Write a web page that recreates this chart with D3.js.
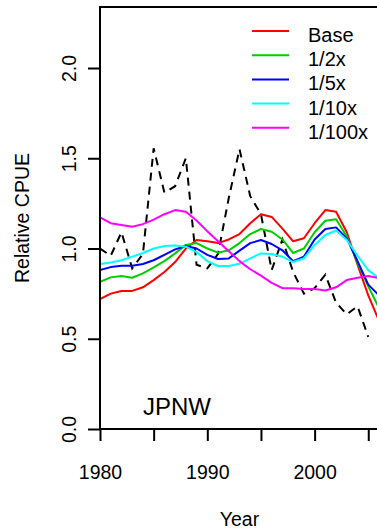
<!DOCTYPE html>
<html>
<head>
<meta charset="utf-8">
<script src="https://cdn.jsdelivr.net/npm/d3@7"></script>
<style>
  html, body { margin: 0; padding: 0; background: #fff; }
  svg { display: block; font-family: "Liberation Sans", Arial, sans-serif; }
</style>
</head>
<body>
<svg id="chart" width="377" height="530"></svg>
<script>
// ---- data ----
const years = [1980,1981,1982,1983,1984,1985,1986,1987,1988,1989,1990,1991,1992,1993,1994,1995,1996,1997,1998,1999,2000,2001,2002,2003,2004,2005,2006];
const base      = [0.72,0.75,0.765,0.765,0.785,0.825,0.87,0.925,1.0,1.047,1.04,1.03,1.05,1.08,1.14,1.19,1.175,1.11,1.04,1.057,1.14,1.213,1.204,1.09,0.91,0.74,0.6];
const half      = [0.816,0.84,0.848,0.838,0.862,0.895,0.93,0.973,1.02,1.03,1.0,0.977,0.99,1.03,1.08,1.108,1.093,1.05,0.975,1.0,1.09,1.154,1.162,1.066,0.92,0.79,0.67];
const fifth     = [0.88,0.897,0.905,0.905,0.914,0.935,0.965,0.995,1.014,1.0,0.965,0.942,0.945,0.988,1.03,1.047,1.025,0.99,0.93,0.955,1.05,1.108,1.117,1.056,0.93,0.8,0.74];
const tenth     = [0.914,0.923,0.935,0.955,0.975,1.0,1.014,1.016,1.01,0.98,0.93,0.903,0.903,0.915,0.945,0.973,0.97,0.955,0.925,0.946,1.02,1.075,1.1,1.047,0.96,0.88,0.835];
const hundredth = [1.173,1.14,1.13,1.12,1.135,1.16,1.19,1.213,1.204,1.155,1.095,1.04,0.985,0.93,0.885,0.85,0.81,0.78,0.78,0.775,0.775,0.767,0.785,0.825,0.838,0.848,0.835];
const obsYears  = [1980,1981,1982,1983,1984,1985,1986,1987,1988,1989,1990,1991,1992,1993,1994,1995,1996,1997,1998,1999,2000,2001,2002,2003,2004,2005];
const observed  = [1.0,0.96,1.09,0.89,0.97,1.555,1.31,1.345,1.5,0.91,0.89,0.97,1.28,1.55,1.29,1.19,0.88,1.05,0.87,0.75,0.78,0.855,0.7,0.635,0.68,0.51];

const seriesNames  = ["Base","1/2x","1/5x","1/10x","1/100x"];
const seriesColors = ["#ff0000","#00cd00","#0000ff","#00ffff","#ff00ff"];
const seriesValues = [base, half, fifth, tenth, hundredth];

const xTicks = [1980,1985,1990,1995,2000,2005];
const xTickLabels = ["1980","","1990","","2000",""];
const yTicks = [0,0.5,1,1.5,2];
const yTickLabels = ["0.0","0.5","1.0","1.5","2.0"];

// ---- layout ----
const svg = d3.select("#chart");
const L = 100, R = 379, T = 7, B = 429;
const x = d3.scaleLinear().domain([1980, 2006]).range([L, R]);
const y = d3.scaleLinear().domain([0, 2.338]).range([B, T]);
const fs = 19.5;

svg.append("defs").append("clipPath").attr("id","clip")
  .append("rect").attr("x", L).attr("y", T).attr("width", R - L).attr("height", B - T);

const plot = svg.append("g").attr("clip-path","url(#clip)");
const line = d3.line().x(d => x(d[0])).y(d => y(d[1]));

// observed dashed
plot.append("path")
  .datum(obsYears.map((yr,i) => [yr, observed[i]]))
  .attr("d", line).attr("fill","none").attr("stroke","#000")
  .attr("stroke-width",2).attr("stroke-dasharray","8,6");

seriesValues.forEach((vals, k) => {
  plot.append("path")
    .datum(years.map((yr,i) => [yr, vals[i]]))
    .attr("d", line).attr("fill","none").attr("stroke", seriesColors[k])
    .attr("stroke-width",2).attr("stroke-linejoin","round");
});

// box
svg.append("path")
  .attr("d", `M${R},${T}H${L}V${B}H${R}`)
  .attr("fill","none").attr("stroke","#000").attr("stroke-width",2);

// x axis
const xAxis = d3.axisBottom(x).tickValues(xTicks).tickSize(12)
  .tickFormat((d,i) => xTickLabels[i]);
const gx = svg.append("g").attr("transform", `translate(0,${B})`).call(xAxis);
gx.select(".domain").remove();
gx.selectAll(".tick line").attr("stroke","#000").attr("stroke-width",2);
gx.selectAll(".tick text").attr("y", 50).attr("dy", null)
  .attr("font-size", fs).attr("font-family","Liberation Sans, Arial, sans-serif").attr("fill","#000");

// y axis
const yAxis = d3.axisLeft(y).tickValues(yTicks).tickSize(12)
  .tickFormat((d,i) => yTickLabels[i]);
const gy = svg.append("g").attr("transform", `translate(${L},0)`).call(yAxis);
gy.select(".domain").remove();
gy.selectAll(".tick line").attr("stroke","#000").attr("stroke-width",2);
gy.selectAll(".tick text")
  .attr("x", null).attr("dy", null)
  .attr("transform", "translate(-24.5,0) rotate(-90)")
  .attr("text-anchor","middle")
  .attr("font-size", fs).attr("font-family","Liberation Sans, Arial, sans-serif").attr("fill","#000");

// axis titles
svg.append("text").attr("x", (L + R) / 2).attr("y", 525.5)
  .attr("text-anchor","middle").attr("font-size", fs).text("Year");
svg.append("text").attr("transform", `translate(28.5,${(T + B) / 2}) rotate(-90)`)
  .attr("text-anchor","middle").attr("font-size", fs).text("Relative CPUE");

// panel label
svg.append("text").attr("x", 143).attr("y", 415).attr("font-size", 24).text("JPNW");

// legend
const lg = svg.append("g");
seriesNames.forEach((name, i) => {
  const ly = 31 + i * 24.2;
  lg.append("line").attr("x1", 252).attr("x2", 289).attr("y1", ly).attr("y2", ly)
    .attr("stroke", seriesColors[i]).attr("stroke-width", 2);
  lg.append("text").attr("x", 308).attr("y", ly + 11).attr("font-size", 20).text(name);
});
</script>
</body>
</html>
